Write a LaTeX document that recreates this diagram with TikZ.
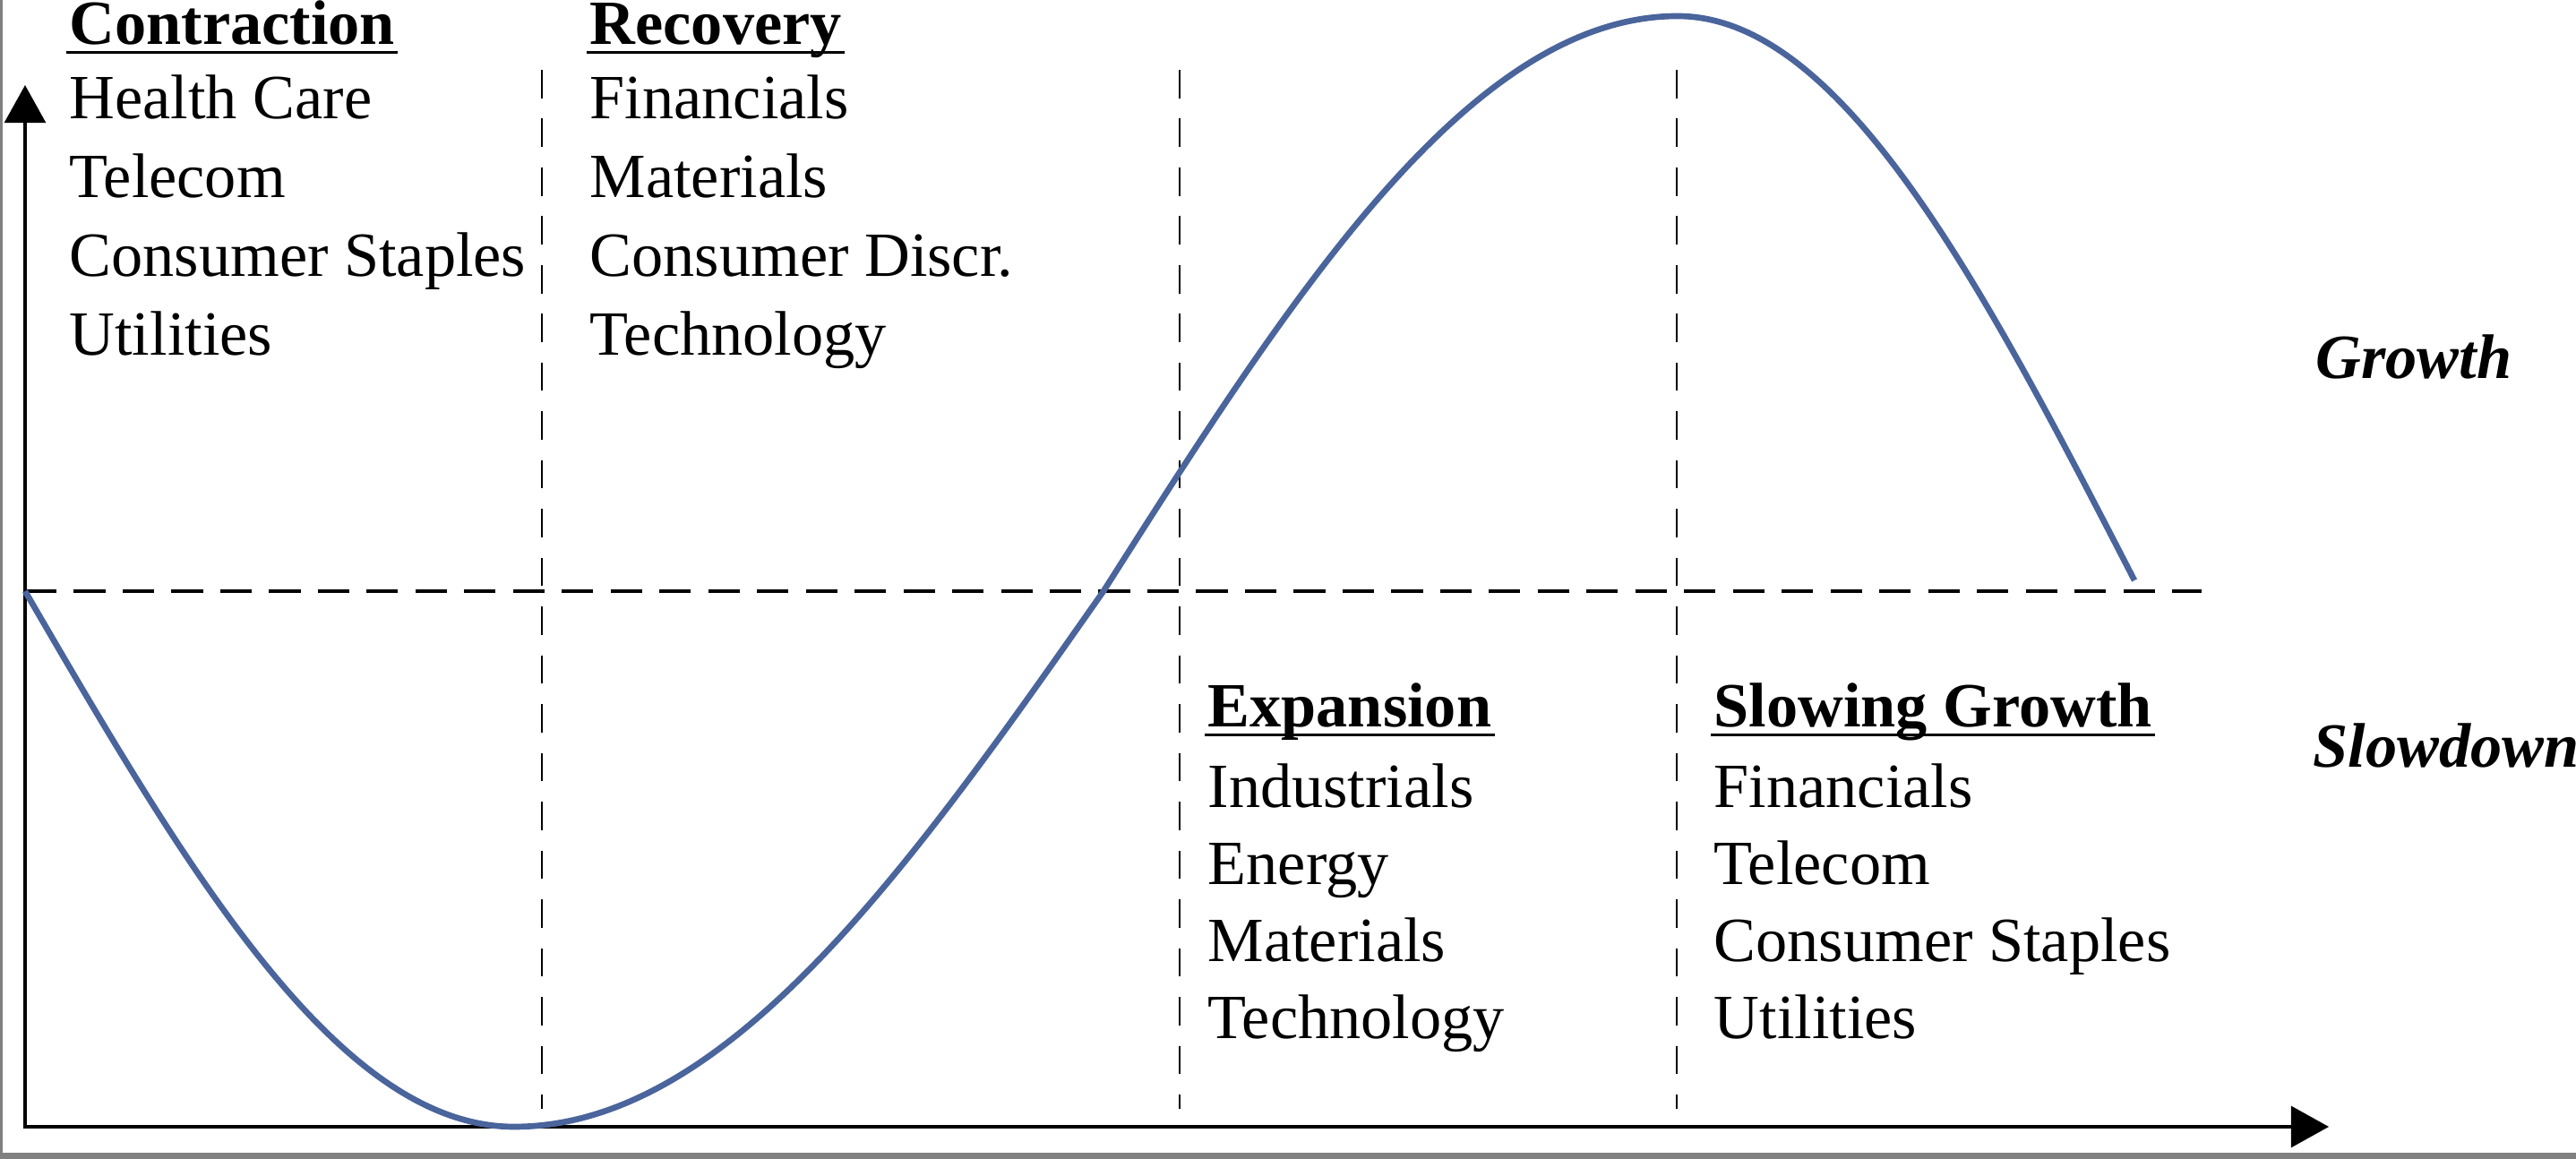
\documentclass[tikz,border=0pt]{standalone}
\usepackage{fontspec}
\setmainfont{Liberation Serif}
\usetikzlibrary{arrows.meta}
\definecolor{trendblue}{HTML}{4A649C}
\definecolor{framegray}{HTML}{808080}
\newsavebox{\headbox}
\newcommand{\phasehead}[1]{%
  \sbox{\headbox}{\bfseries #1}%
  \rlap{\kern-1pt\rule[-2.8pt]{\dimexpr\wd\headbox+2pt\relax}{0.9pt}}\usebox{\headbox}}

\begin{document}
\begin{tikzpicture}[
    x=1cm,y=1cm,
    axis/.style      = {line width=1.2pt,
                        {Triangle[length=12pt,width=13pt]}-{Triangle[length=12pt,width=13pt]}},
    midline/.style   = {line width=0.9pt, dash pattern=on 10pt off 5.5pt},
    phaseline/.style = {line width=0.75pt, dash pattern=on 9pt off 6.5pt},
    trend/.style     = {trendblue, line width=1.9pt},
    sector/.style    = {font=\fontsize{20}{24}\selectfont, anchor=base west, inner sep=0pt},
    regime/.style    = {font=\fontsize{20}{24}\selectfont\bfseries\itshape,
                        anchor=base west, inner sep=0pt},
  ]
  \useasboundingbox (0,0) rectangle (28.76,12.94);

  % -- frame edges ----------------------------------------------------------
  \fill[framegray] (0,0) rectangle (28.76,0.07);
  \fill[framegray] (0,0) rectangle (0.03,12.94);

  % -- axes -----------------------------------------------------------------
  \coordinate (origin) at (0.28,0.36);
  \coordinate (ytip)   at (0.28,11.99);
  \coordinate (xtip)   at (26.00,0.36);
  \draw[axis] (ytip) -- (origin) -- (xtip);

  % -- trend line and phase borders -----------------------------------------
  \coordinate (midL) at (0.28,6.34);
  \coordinate (midR) at (24.58,6.34);
  \draw[midline] (midL) -- (midR);
  \foreach \x/\name in {6.05/b1,13.17/b2,18.72/b3}
    \draw[phaseline] (\x,12.16) coordinate (\name-top) -- (\x,0.56) coordinate (\name-bot);

  % -- business cycle -------------------------------------------------------
  \draw[trend] (midL) sin (5.74,0.36) cos (12.32,6.34) sin (18.73,12.76) cos (23.83,6.46);

  % -- phases in the upper half ---------------------------------------------
  \node[sector] (con) at (0.77,12.44) {\phasehead{Contraction}};
  \foreach \txt [count=\i] in {Health Care,Telecom,Consumer Staples,Utilities}
    \node[sector] (con-\i) at (0.77,{11.61-0.88*(\i-1)}) {\txt};

  \node[sector] (rec) at (6.58,12.44) {\phasehead{Recovery}};
  \foreach \txt [count=\i] in {Financials,Materials,Consumer Discr.,Technology}
    \node[sector] (rec-\i) at (6.58,{11.61-0.88*(\i-1)}) {\txt};

  % -- phases in the lower half ---------------------------------------------
  \node[sector] (exp) at (13.48,4.82) {\phasehead{Expansion}};
  \foreach \txt [count=\i] in {Industrials,Energy,Materials,Technology}
    \node[sector] (exp-\i) at (13.48,{3.92-0.86*(\i-1)}) {\txt};

  \node[sector] (slo) at (19.13,4.82) {\phasehead{Slowing Growth}};
  \foreach \txt [count=\i] in {Financials,Telecom,Consumer Staples,Utilities}
    \node[sector] (slo-\i) at (19.13,{3.92-0.86*(\i-1)}) {\txt};

  % -- regimes --------------------------------------------------------------
  \node[regime] (growth)   at (25.85,8.71) {Growth};
  \node[regime] (slowdown) at (25.82,4.37) {Slowdown};
\end{tikzpicture}
\end{document}
